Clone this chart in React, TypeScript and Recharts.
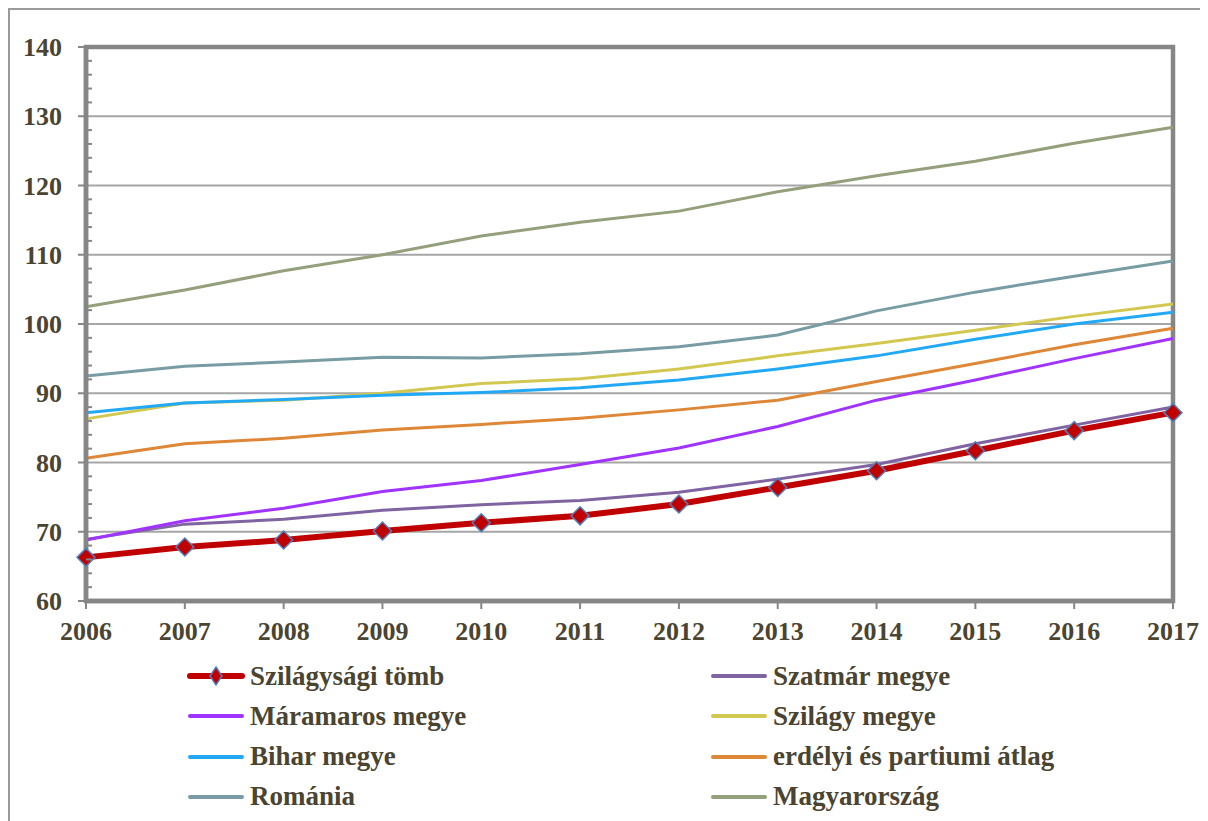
import { LineChart, Line, XAxis, YAxis, CartesianGrid, ReferenceArea } from "recharts"

const years = ["2006", "2007", "2008", "2009", "2010", "2011", "2012", "2013", "2014", "2015", "2016", "2017"]

const szilagysagiTomb = [66.3, 67.8, 68.8, 70.1, 71.3, 72.3, 74.0, 76.4, 78.8, 81.7, 84.6, 87.2]
const szatmarMegye = [68.9, 71.1, 71.8, 73.1, 73.9, 74.5, 75.7, 77.6, 79.7, 82.7, 85.4, 88.0]
const maramarosMegye = [68.8, 71.6, 73.4, 75.8, 77.4, 79.7, 82.1, 85.2, 89.0, 91.9, 95.0, 97.9]
const szilagyMegye = [86.3, 88.6, 89.0, 90.0, 91.4, 92.1, 93.5, 95.4, 97.2, 99.1, 101.1, 102.9]
const biharMegye = [87.2, 88.6, 89.1, 89.7, 90.1, 90.8, 91.9, 93.5, 95.4, 97.8, 100.0, 101.7]
const erdelyiAtlag = [80.6, 82.7, 83.5, 84.7, 85.5, 86.4, 87.6, 89.0, 91.7, 94.3, 97.0, 99.4]
const romania = [92.5, 93.9, 94.5, 95.2, 95.1, 95.7, 96.7, 98.4, 101.9, 104.6, 106.9, 109.1]
const magyarorszag = [102.5, 104.9, 107.7, 110.0, 112.7, 114.7, 116.3, 119.1, 121.4, 123.5, 126.1, 128.4]

const majorTicks = [60, 70, 80, 90, 100, 110, 120, 130, 140]
const allTicks = [60, 62, 64, 66, 68, 70, 72, 74, 76, 78, 80, 82, 84, 86, 88, 90, 92, 94, 96, 98, 100,
  102, 104, 106, 108, 110, 112, 114, 116, 118, 120, 122, 124, 126, 128, 130, 132, 134, 136, 138, 140]

// legend order (row by row, two columns)
const series = [
  { key: "tomb", name: "Szilágysági tömb", values: szilagysagiTomb, color: "#c00000", width: 6 },
  { key: "szatmar", name: "Szatmár megye", values: szatmarMegye, color: "#8064a2", width: 3 },
  { key: "maramaros", name: "Máramaros megye", values: maramarosMegye, color: "#a033ff", width: 3 },
  { key: "szilagy", name: "Szilágy megye", values: szilagyMegye, color: "#d2c850", width: 3 },
  { key: "bihar", name: "Bihar megye", values: biharMegye, color: "#22a9f6", width: 3 },
  { key: "erdelyi", name: "erdélyi és partiumi átlag", values: erdelyiAtlag, color: "#de8736", width: 3 },
  { key: "romania", name: "Románia", values: romania, color: "#789ca3", width: 3 },
  { key: "magyar", name: "Magyarország", values: magyarorszag, color: "#93a07b", width: 3 },
]

const data = years.map((year, i) => {
  const row: Record<string, string | number> = { year }
  series.forEach((s) => (row[s.key] = s.values[i]))
  return row
})

const FONT = '"Liberation Serif", "Times New Roman", serif'
const TEXT = "#4a4430"
const AXIS = "#868686"

function Diamond(props: any) {
  const { cx, cy } = props
  if (cx == null || cy == null) return null
  const r = 9
  return (
    <path
      d={`M${cx},${cy - r} L${cx + r},${cy} L${cx},${cy + r} L${cx - r},${cy} Z`}
      fill="#c00000"
      stroke="#4f81bd"
      strokeWidth={1.5}
    />
  )
}

function YTick(props: any) {
  const { x, y, payload } = props
  const v = payload.value
  if (v % 10 !== 0) {
    return <line x1={x + 24} x2={x + 30} y1={y} y2={y} stroke={AXIS} strokeWidth={2} />
  }
  return (
    <g>
      <line x1={x + 16} x2={x + 24} y1={y} y2={y} stroke={AXIS} strokeWidth={2} />
      <text x={x} y={y} dy={9} textAnchor="end" fill={TEXT} fontSize={26} fontWeight="bold" fontFamily={FONT}>
        {v}
      </text>
    </g>
  )
}

export default function App() {
  const ordered = [...series.slice(1), series[0]]
  return (
    <div style={{ position: "relative", width: 1200, height: 813, fontFamily: FONT }}>
      <div
        style={{
          position: "absolute",
          left: 0,
          top: 0,
          width: 1260,
          height: 900,
          borderTop: "2px solid #9a9a9a",
          borderLeft: "2px solid #9a9a9a",
        }}
      />
      <div style={{ position: "absolute", left: 0, top: 0 }}>
        <LineChart width={1200} height={643} data={data} margin={{ top: 39, right: 35, bottom: 0, left: 0 }}>
          <CartesianGrid vertical={false} horizontalValues={majorTicks} stroke="#a6a6a6" strokeWidth={2} />
          <ReferenceArea x1="2006" x2="2017" y1={60} y2={140} fill="none" stroke={AXIS} strokeWidth={4.5} />
          <XAxis
            dataKey="year"
            height={50}
            padding={{ left: 0, right: 0 }}
            axisLine={{ stroke: AXIS, strokeWidth: 4.5 }}
            tickLine={{ stroke: AXIS, strokeWidth: 2 }}
            tickSize={8}
            tickMargin={13}
            tick={{ fill: TEXT, fontSize: 26, fontWeight: "bold", fontFamily: FONT }}
            interval={0}
          />
          <YAxis
            width={78}
            domain={[60, 140]}
            ticks={allTicks}
            interval={0}
            axisLine={{ stroke: AXIS, strokeWidth: 4.5 }}
            tickLine={false}
            tickSize={8}
            tickMargin={16}
            tick={<YTick />}
          />
          {ordered.map((s) => (
            <Line
              key={s.key}
              type="linear"
              dataKey={s.key}
              name={s.name}
              stroke={s.color}
              strokeWidth={s.width}
              dot={s.key === "tomb" ? <Diamond /> : false}
              activeDot={false}
              isAnimationActive={false}
            />
          ))}
        </LineChart>
      </div>
      {series.map((s, i) => {
        const col = i % 2
        const row = Math.floor(i / 2)
        return (
          <div
            key={s.key}
            style={{
              position: "absolute",
              left: col === 0 ? 178 : 701,
              top: 668 + row * 40.3 - 20,
              height: 40,
              display: "flex",
              alignItems: "center",
              whiteSpace: "nowrap",
            }}
          >
            <svg width={60} height={24} style={{ marginRight: 4 }}>
              <line x1={4} x2={56} y1={12} y2={12} stroke={s.color} strokeWidth={s.key === "tomb" ? 6 : 4} strokeLinecap="round" />
              {s.key === "tomb" && <path d="M30,3 L36,12 L30,21 L24,12 Z" fill="#c00000" stroke="#4f81bd" strokeWidth={1.5} />}
            </svg>
            <span style={{ color: TEXT, fontSize: 27, fontWeight: "bold", fontFamily: FONT }}>{s.name}</span>
          </div>
        )
      })}
    </div>
  )
}
